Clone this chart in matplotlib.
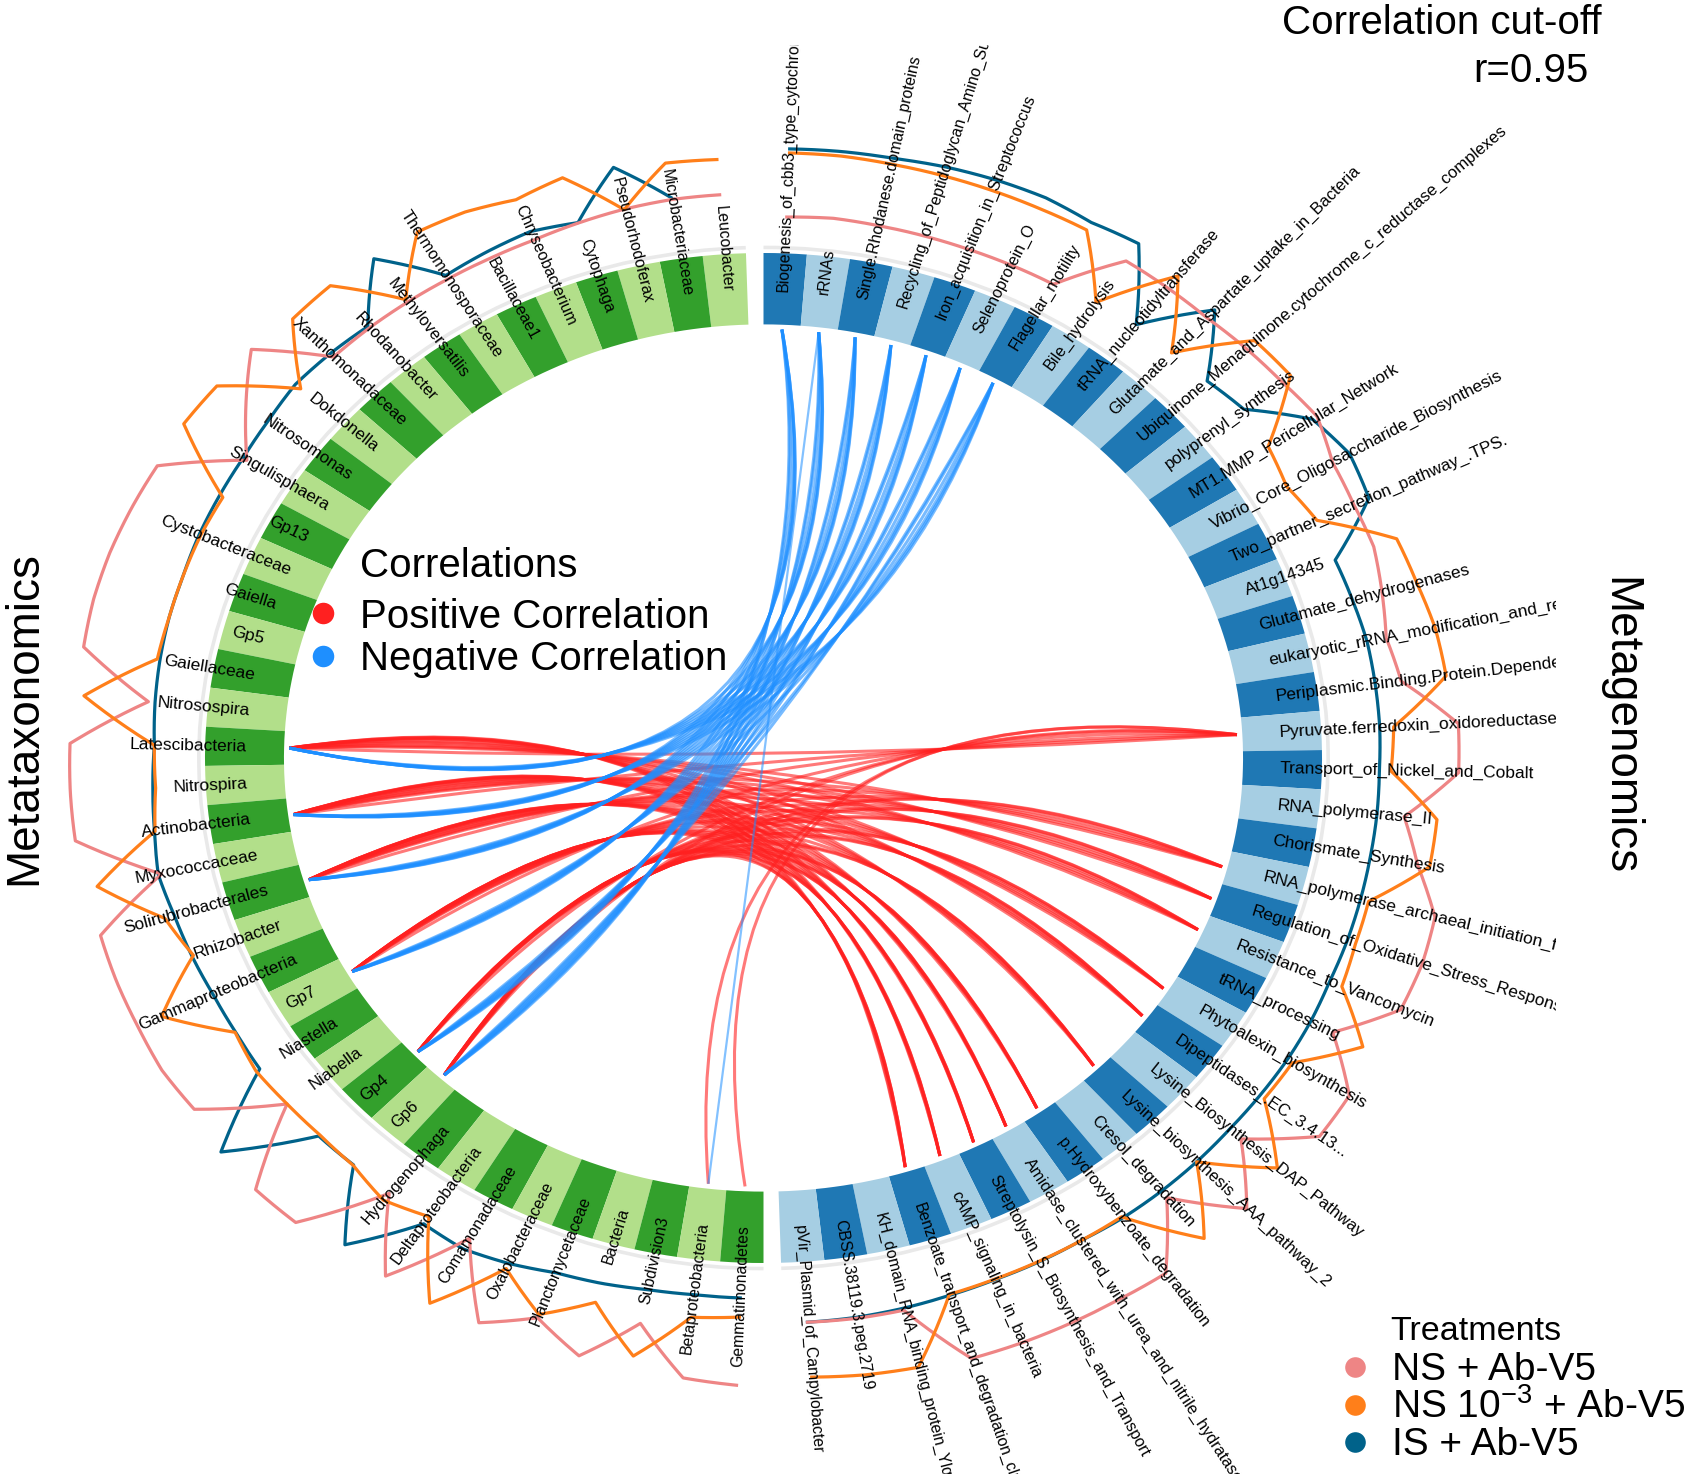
import numpy as np
import matplotlib.pyplot as plt
from matplotlib.patches import Wedge, Arc, PathPatch
from matplotlib.path import Path
from matplotlib.transforms import Bbox

plt.rcParams['font.family'] = ['Liberation Sans', 'DejaVu Sans']
plt.rcParams['mathtext.fontset'] = 'custom'
plt.rcParams['mathtext.rm'] = 'Liberation Sans'

# Metataxonomics sector, from the top gap going down the left side
taxa = ["Leucobacter", "Microbacteriaceae", "Pseudorhodoferax", "Cytophaga",
        "Chryseobacterium", "Bacillaceae1", "Thermomonosporaceae", "Methyloversatilis",
        "Rhodanobacter", "Xanthomonadaceae", "Dokdonella", "Nitrosomonas",
        "Singulisphaera", "Gp13", "Cystobacteraceae", "Gaiella", "Gp5", "Gaiellaceae",
        "Nitrosospira", "Latescibacteria", "Nitrospira", "Actinobacteria",
        "Myxococcaceae", "Solirubrobacterales", "Rhizobacter", "Gammaproteobacteria",
        "Gp7", "Niastella", "Niabella", "Gp4", "Gp6", "Hydrogenophaga",
        "Deltaproteobacteria", "Comamonadaceae", "Oxalobacteraceae", "Planctomycetaceae",
        "Bacteria", "Subdivision3", "Betaproteobacteria", "Gemmatimonadetes"]

# Metagenomics sector, from the top gap going down the right side
functions = ["Biogenesis_of_cbb3_type_cytochrome_c_oxidases", "rRNAs",
             "Single.Rhodanese.domain_proteins", "Recycling_of_Peptidoglycan_Amino_Sugars",
             "Iron_acquisition_in_Streptococcus", "Selenoprotein_O", "Flagellar_motility",
             "Bile_hydrolysis", "tRNA_nucleotidyltransferase",
             "Glutamate_and_Aspartate_uptake_in_Bacteria",
             "Ubiquinone_Menaquinone.cytochrome_c_reductase_complexes",
             "polyprenyl_synthesis", "MT1.MMP_Pericellular_Network",
             "Vibrio_Core_Oligosaccharide_Biosynthesis", "Two_partner_secretion_pathway_.TPS.",
             "At1g14345", "Glutamate_dehydrogenases",
             "eukaryotic_rRNA_modification_and_related_functions",
             "Periplasmic.Binding.Protein.Dependent.Transport",
             "Pyruvate.ferredoxin_oxidoreductase", "Transport_of_Nickel_and_Cobalt",
             "RNA_polymerase_II", "Chorismate_Synthesis",
             "RNA_polymerase_archaeal_initiation_factors",
             "Regulation_of_Oxidative_Stress_Response", "Resistance_to_Vancomycin",
             "tRNA_processing", "Phytoalexin_biosynthesis", "Dipeptidases_.EC_3.4.13...",
             "Lysine_Biosynthesis_DAP_Pathway", "Lysine_biosynthesis_AAA_pathway_2",
             "Cresol_degradation", "p.Hydroxybenzoate_degradation",
             "Amidase_clustered_with_urea_and_nitrile_hydratase",
             "Streptolysin_S_Biosynthesis_and_Transport", "cAMP_signaling_in_bacteria",
             "Benzoate_transport_and_degradation_cluster", "KH_domain_RNA_binding_protein_YlqC",
             "CBSS.38119.3.peg.2719", "pVir_Plasmid_of_Campylobacter"]

# relative abundance per treatment (0-1 scale of the outer line track)
taxa_ns = [0.34, 0.34, 0.325, 0.30, 0.275, 0.27, 0.27, 0.275, 0.28, 0.28,
           0.865, 0.55, 0.235, 0.90, 0.925, 0.945, 0.95, 0.935, 0.285, 0.96,
           0.965, 0.965, 0.26, 0.94, 0.95, 0.95, 0.96, 0.92, 0.22, 0.99,
           0.97, 0.21, 0.895, 0.185, 0.895, 0.65, 0.895, 0.455, 0.93, 0.965]
taxa_ns3 = [0.69, 0.705, 0.32, 0.77, 0.705, 0.78, 0.81, 0.305, 0.825, 0.805,
            0.275, 0.875, 0.905, 0.235, 0.25, 0.25, 0.25, 0.265, 0.865, 0.205,
            0.20, 0.245, 0.85, 0.34, 0.215, 0.715, 0.205, 0.25, 0.22, 0.20,
            0.205, 0.295, 0.19, 0.92, 0.305, 0.615, 0.345, 0.785, 0.325, 0.29]
taxa_is = [np.nan, 0.36, 0.75, 0.305, 0.365, 0.34, 0.31, 0.80, 0.30, 0.325,
           0.34, 0.30, 0.275, 0.27, 0.265, 0.25, 0.25, 0.24, 0.225, 0.205,
           0.225, 0.25, 0.29, 0.25, 0.23, 0.205, 0.20, 0.21, 0.98, 0.215,
           0.20, 0.855, 0.275, 0.305, 0.25, 0.175, 0.15, 0.115, 0.10, 0.10]

func_ns = [0.11, 0.13, 0.12, 0.115, 0.11, 0.11, 0.11, 0.645, 0.645, 0.645,
           0.675, 0.70, 0.75, 0.625, 0.60, 0.60, 0.525, 0.45, 0.51, 0.98,
           0.975, 0.515, 0.70, 0.965, 0.99, 0.975, 0.525, 0.97, 0.98, 0.45,
           0.965, 0.405, 0.995, 0.985, 0.985, 0.985, 0.98, 0.36, 0.36, 0.35]
func_ns3 = [0.745, 0.75, 0.74, 0.735, 0.73, 0.725, 0.725, 0.155, 0.795, 0.175,
            0.785, 0.80, 0.22, 0.15, 0.235, 0.82, 0.85, 0.90, 0.915, 0.40,
            0.37, 0.81, 0.81, 0.35, 0.36, 0.40, 0.83, 0.365, 0.36, 0.885,
            0.32, 0.93, 0.31, 0.31, 0.31, 0.31, 0.315, 0.94, 0.925, 0.895]
func_is = [0.785, 0.795, 0.80, 0.825, 0.84, 0.845, 0.81, 0.85, 0.185, 0.75,
           0.20, 0.265, 0.70, 0.80, 0.75, 0.23, 0.25, 0.275, 0.275, 0.275,
           0.265, 0.27, 0.27, 0.275, 0.28, 0.28, 0.30, 0.31, 0.31, 0.31,
           0.32, 0.325, 0.325, 0.31, 0.315, 0.315, 0.325, 0.34, 0.35, 0.35]

# correlations above the cut-off
linked_taxa = ["Latescibacteria", "Actinobacteria", "Solirubrobacterales", "Gp7", "Gp4", "Gp6"]
negative_functions = ["Biogenesis_of_cbb3_type_cytochrome_c_oxidases", "rRNAs",
                      "Single.Rhodanese.domain_proteins", "Recycling_of_Peptidoglycan_Amino_Sugars",
                      "Iron_acquisition_in_Streptococcus", "Selenoprotein_O", "Flagellar_motility"]
positive_functions = ["Pyruvate.ferredoxin_oxidoreductase", "RNA_polymerase_archaeal_initiation_factors",
                      "Regulation_of_Oxidative_Stress_Response", "Resistance_to_Vancomycin",
                      "Phytoalexin_biosynthesis", "Dipeptidases_.EC_3.4.13...",
                      "Lysine_biosynthesis_AAA_pathway_2", "p.Hydroxybenzoate_degradation",
                      "Amidase_clustered_with_urea_and_nitrile_hydratase",
                      "Streptolysin_S_Biosynthesis_and_Transport", "cAMP_signaling_in_bacteria",
                      "Benzoate_transport_and_degradation_cluster"]
extra_links = [("Betaproteobacteria", "Pyruvate.ferredoxin_oxidoreductase", 1),
               ("Betaproteobacteria", "rRNAs", -1),
               ("Gemmatimonadetes", "Pyruvate.ferredoxin_oxidoreductase", 1)]

treatments = ["NS + Ab-V5", r"NS 10$^{-3}$ + Ab-V5", "IS + Ab-V5"]
treat_colors = ["#ee8585", "#ff7f1a", "#00628a"]

# ---- layout ----
W, H = 1692, 1474
cx, cy = 763.5, 758.0
rx, ry = 558.5, 505.0
r_out, r_in = 1.0, 0.8586
r_lab = 0.925
r_link = 0.849
track_lo, track_hi = 1.05, 1.25

fig = plt.figure(figsize=(W / 100, H / 100), dpi=100)
ax = fig.add_axes([0, 0, 1, 1])
ax.set_xlim(-cx / rx, (W - cx) / rx)
ax.set_ylim((cy - H) / ry, cy / ry)
ax.axis('off')


def px(x, y):
    return (x - cx) / rx, (cy - y) / ry


n = len(taxa)
gap = 1.8
step = (180 - gap) / n
left_start = 90 + gap
right_start = 90.0
taxa_theta = left_start + (np.arange(n) + 0.5) * step
func_theta = right_start - (np.arange(n) + 0.5) * step
t_pos = dict(zip(taxa, taxa_theta))
f_pos = dict(zip(functions, func_theta))


def disp_angle(t):
    t = np.radians(t)
    return np.degrees(np.arctan2(ry * np.sin(t), rx * np.cos(t)))


def lab_size(t):
    # horizontal labels look wider in the stretched original
    return 11.3 * (1 + 0.11 * np.cos(np.radians(disp_angle(t))) ** 2)


def pol(r, t):
    t = np.radians(t)
    return r * np.cos(t), r * np.sin(t)


# blocks
for i in range(n):
    a0 = left_start + i * step
    ax.add_patch(Wedge((0, 0), r_out, a0, a0 + step, width=r_out - r_in,
                       fc="#b2df8a" if i % 2 == 0 else "#33a02c", lw=0))
    b1 = right_start - i * step
    ax.add_patch(Wedge((0, 0), r_out, b1 - step, b1, width=r_out - r_in,
                       fc="#1f78b4" if i % 2 == 0 else "#a6cee3", lw=0))

# light border of the line track
ax.add_patch(Arc((0, 0), 2.022, 2.022, theta1=left_start, theta2=270, color="#e9e9e9", lw=2.6))
ax.add_patch(Arc((0, 0), 2.022, 2.022, theta1=-90 + gap, theta2=90, color="#e9e9e9", lw=2.6))

# labels
for name, t in zip(taxa, taxa_theta):
    x, y = pol(r_lab, t)
    ax.text(x, y, name, rotation=disp_angle(t) - 180, ha='right', va='center',
            rotation_mode='anchor', fontsize=lab_size(t))

clip = Bbox.from_extents(0, 0, 1556, H - 45)
for name, t in zip(functions, func_theta):
    x, y = pol(r_lab, t)
    tx = ax.text(x, y, name, rotation=disp_angle(t), ha='left', va='center',
                 rotation_mode='anchor', fontsize=lab_size(t), clip_on=True)
    tx.set_clip_box(clip)


# treatment lines
def ring_line(thetas, vals, color):
    r = track_lo + np.asarray(vals, dtype=float) * (track_hi - track_lo)
    xs, ys = [], []
    for j in range(len(thetas) - 1):
        if np.isnan(r[j]) or np.isnan(r[j + 1]):
            continue
        tt = np.linspace(thetas[j], thetas[j + 1], 14)
        rr = np.linspace(r[j], r[j + 1], 14)
        x, y = pol(rr, tt)
        xs.extend(x)
        ys.extend(y)
    ax.plot(xs, ys, color=color, lw=2.3)


for vals_t, vals_f, col in [(taxa_is, func_is, treat_colors[2]),
                            (taxa_ns, func_ns, treat_colors[0]),
                            (taxa_ns3, func_ns3, treat_colors[1])]:
    ring_line(taxa_theta, vals_t, col)
    ring_line(func_theta, vals_f, col)


# links: quadratic bezier pulled towards the centre
def link(t1, t2, color, alpha, pull, lw=2.2):
    p0 = np.array(pol(r_link, t1))
    p2 = np.array(pol(r_link, t2))
    c = -pull * (p0 + p2) / 2
    path = Path([p0, c, p2], [Path.MOVETO, Path.CURVE3, Path.CURVE3])
    ax.add_patch(PathPatch(path, fc='none', ec=color, lw=lw, alpha=alpha, capstyle='butt'))


red, blue = "#ff2020", "#1e8fff"
for tname in linked_taxa:
    for fname in positive_functions:
        link(t_pos[tname], f_pos[fname], red, 0.6, 0.45)
for tname, fname, s in extra_links:
    if s > 0:
        link(t_pos[tname], f_pos[fname], red, 0.6, 0.45)
for tname in linked_taxa:
    for fname in negative_functions:
        link(t_pos[tname], f_pos[fname], blue, 0.6, 0.5)
for tname, fname, s in extra_links:
    if s < 0:
        link(t_pos[tname], f_pos[fname], blue, 0.55, 0.5, lw=1.6)

# correlation legend
ax.text(*px(360, 577), "Correlations", fontsize=29, va='baseline')
ax.text(*px(360, 628), "Positive Correlation", fontsize=29, va='baseline')
ax.text(*px(360, 670), "Negative Correlation", fontsize=29, va='baseline')
for yy, col in [(613, red), (656, blue)]:
    ax.scatter(*px(323, yy), s=240, color=col, lw=0)

# treatment legend
ax.text(*px(1390, 1340), "Treatments", fontsize=24.5, va='baseline')
for yy, lab, col in zip([1380, 1418, 1455], treatments, treat_colors):
    ax.text(*px(1392, yy), lab, fontsize=28, va='baseline')
    ax.scatter(*px(1355, yy - 13), s=220, color=col, lw=0)

# titles
ax.text(*px(1602, 34), "Correlation cut-off", fontsize=29, ha='right', va='baseline')
ax.text(*px(1588, 82), "r=0.95", fontsize=29, ha='right', va='baseline')
ax.text(*px(24, 718), "Metataxonomics", fontsize=33, rotation=90, ha='center', va='center')
ax.text(*px(1619, 726), "Metagenomics", fontsize=33, rotation=270, ha='center', va='center')

fig.savefig("out.png", dpi=100)
